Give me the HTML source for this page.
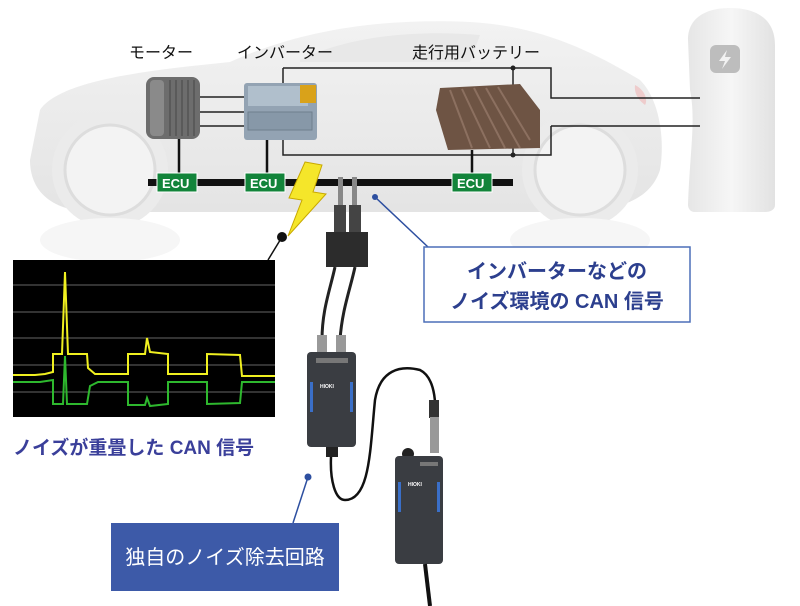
<!DOCTYPE html>
<html><head><meta charset="utf-8"><style>
html,body{margin:0;padding:0;background:#fff;}
svg{display:block;}
text{font-family:"Liberation Sans","Noto Sans CJK JP",sans-serif;}
</style></head><body>
<svg width="800" height="606" viewBox="0 0 800 606" xmlns="http://www.w3.org/2000/svg">
<defs>
<linearGradient id="car" x1="0" y1="0" x2="0" y2="1"><stop offset="0" stop-color="#f2f2f2"/><stop offset="1" stop-color="#e4e4e4"/></linearGradient>
<linearGradient id="chg" x1="0" y1="0" x2="1" y2="0"><stop offset="0" stop-color="#e6e6e6"/><stop offset="0.5" stop-color="#f6f6f6"/><stop offset="1" stop-color="#e2e2e2"/></linearGradient>
</defs>
<!-- car silhouette -->
<path d="M40,110 C60,80 150,70 230,62 C300,30 380,18 470,22 C540,26 590,50 640,80 C660,100 665,140 660,170 C650,200 620,212 560,212 L90,212 C50,210 30,190 30,160 Z" fill="url(#car)"/>
<path d="M300,60 C350,35 420,30 480,35 L470,62 L300,62 Z" fill="#e8e8e8"/>
<circle cx="110" cy="170" r="58" fill="#ebebeb"/><circle cx="110" cy="170" r="45" fill="#f3f3f3" stroke="#ddd" stroke-width="3"/>
<circle cx="580" cy="170" r="58" fill="#ebebeb"/><circle cx="580" cy="170" r="45" fill="#f3f3f3" stroke="#ddd" stroke-width="3"/>
<ellipse cx="110" cy="240" rx="70" ry="22" fill="#f6f6f6"/><ellipse cx="580" cy="240" rx="70" ry="22" fill="#f6f6f6"/>
<path d="M635,85 C645,90 648,100 645,105 C638,100 634,93 635,85Z" fill="#eecccc"/>
<!-- charger -->
<path d="M688,40 C688,15 710,8 730,8 C755,8 775,18 775,45 L775,205 C775,210 770,212 765,212 L695,212 C690,212 688,208 688,205 C690,150 696,120 690,90 Z" fill="url(#chg)"/>
<rect x="710" y="45" width="30" height="28" rx="6" fill="#bdbdbd"/>
<path d="M727,50 L719,61 L725,61 L722,69 L731,57 L725,57 Z" fill="#f2f2f2"/>
<!-- labels -->
<text x="129" y="58" font-size="16" fill="#111">モーター</text>
<text x="237" y="58" font-size="16" fill="#111">インバーター</text>
<text x="412" y="58" font-size="16" fill="#111">走行用バッテリー</text>
<!-- wires -->
<g stroke="#222" stroke-width="1.5" fill="none">
<path d="M283,68 L551,68 L551,98 L700,98"/>
<path d="M551,126 L700,126 M551,126 L551,155 L283,155 L283,68"/>
<path d="M513,68 L513,155"/>
<path d="M200,97 L245,97 M200,112 L245,112 M200,126 L245,126"/>
</g>
<circle cx="513" cy="68" r="2.5" fill="#222"/><circle cx="513" cy="155" r="2.5" fill="#222"/>
<g stroke="#111" stroke-width="2.5" fill="none">
<path d="M179,138 L179,176 M267,138 L267,176 M472,150 L472,176"/>
</g>
<!-- motor -->
<rect x="146" y="77" width="54" height="62" rx="8" fill="#6d6d6d"/>
<rect x="150" y="80" width="14" height="56" rx="4" fill="#8a8a8a"/>
<g stroke="#555" stroke-width="1.5"><path d="M170,80 V136 M176,80 V136 M182,80 V136 M188,80 V136 M194,80 V136"/></g>
<!-- inverter -->
<rect x="244" y="83" width="73" height="57" rx="3" fill="#93a3b3"/>
<rect x="248" y="86" width="60" height="20" fill="#b0bfcc"/>
<rect x="300" y="85" width="16" height="18" fill="#d9a21a"/>
<rect x="248" y="112" width="64" height="18" fill="#8798a8" stroke="#6f7f8e"/>
<!-- battery -->
<path d="M440,88 L520,84 L540,110 L540,148 L448,150 L436,110 Z" fill="#6e5444"/>
<g stroke="#8c7060" stroke-width="2"><path d="M450,90 L472,148 M462,89 L490,148 M474,88 L505,148 M486,88 L520,148 M498,87 L530,140"/></g>
<!-- CAN bus -->
<rect x="148" y="179" width="365" height="7" fill="#111"/>
<g fill="#12843a" stroke="#fff" stroke-width="1"><rect x="157" y="173" width="40" height="19"/><rect x="245" y="173" width="40" height="19"/><rect x="452" y="173" width="40" height="19"/></g>
<g font-size="13" font-weight="bold" fill="#fff"><text x="162" y="188">ECU</text><text x="250" y="188">ECU</text><text x="457" y="188">ECU</text></g>
<!-- lightning -->
<path d="M305,162 L322,165 L313,192 L326,194 L288,236 L302,200 L289,198 Z" fill="#f5e62a" stroke="#c8a800" stroke-width="1"/>
<!-- probes -->
<rect x="338" y="177" width="5" height="30" fill="#888"/><rect x="352" y="177" width="5" height="30" fill="#888"/>
<rect x="334" y="205" width="12" height="40" fill="#444"/><rect x="349" y="205" width="12" height="40" fill="#444"/>
<rect x="326" y="232" width="42" height="35" fill="#2c2c2c"/>
<g stroke="#222" stroke-width="3" fill="none">
<path d="M335,267 C330,290 322,310 322,340"/><path d="M355,267 C350,290 342,310 340,340"/>
</g>
<rect x="317" y="335" width="10" height="18" fill="#999"/><rect x="336" y="335" width="10" height="18" fill="#999"/>
<!-- device 1 -->
<rect x="307" y="352" width="49" height="95" rx="4" fill="#3a3d42"/>
<rect x="316" y="358" width="32" height="5" fill="#777"/>
<rect x="310" y="382" width="3" height="30" fill="#3a6fc8"/><rect x="350" y="382" width="3" height="30" fill="#3a6fc8"/>
<text x="320" y="388" font-size="5" fill="#fff" font-weight="bold">HIOKI</text>
<rect x="326" y="447" width="12" height="10" fill="#222"/>
<!-- cable -->
<path d="M331,457 C330,480 335,500 345,500 C370,500 370,450 375,400 C380,370 400,365 420,370 C440,380 435,420 435,440" stroke="#111" stroke-width="2.5" fill="none"/>
<rect x="429" y="400" width="10" height="18" fill="#333"/><rect x="430" y="417" width="9" height="36" fill="#999"/>
<!-- device 2 -->
<circle cx="408" cy="454" r="6" fill="#222"/>
<rect x="395" y="456" width="48" height="108" rx="4" fill="#3a3d42"/>
<rect x="420" y="462" width="18" height="4" fill="#777"/>
<rect x="398" y="482" width="3" height="30" fill="#3a6fc8"/><rect x="437" y="482" width="3" height="30" fill="#3a6fc8"/>
<text x="408" y="486" font-size="5" fill="#fff" font-weight="bold">HIOKI</text>
<path d="M425,564 L430,606" stroke="#111" stroke-width="4"/>
<!-- callout right -->
<circle cx="375" cy="197" r="3" fill="#2d4fa0"/>
<path d="M375,197 L428,247" stroke="#2d4fa0" stroke-width="1.5"/>
<rect x="424" y="247" width="266" height="75" fill="#fff" stroke="#4c6fb8" stroke-width="1.5"/>
<text x="557" y="278" font-size="20" font-weight="bold" fill="#2c3f8e" text-anchor="middle">インバーターなどの</text>
<text x="557" y="308" font-size="20" font-weight="bold" fill="#2c3f8e" text-anchor="middle">ノイズ環境の CAN 信号</text>
<!-- waveform -->
<circle cx="282" cy="237" r="5" fill="#111"/>
<path d="M282,237 L268,260" stroke="#111" stroke-width="1.5"/>
<rect x="13" y="260" width="262" height="157" fill="#000"/>
<g stroke="#888" stroke-width="0.8"><path d="M13,285 H275 M13,312 H275 M13,338 H275 M13,365 H275 M13,392 H275"/></g>
<path d="M13,375 L35,375 L45,374 L53,372 L53,354 L62,354 L65,272 L68,354 L87,354 L88,368 L95,374 L128,374 L128,354 L145,354 L147,338 L150,352 L168,354 L168,374 L207,374 L207,354 L240,355 L242,376 L275,376" stroke="#f0f020" stroke-width="2" fill="none"/>
<path d="M13,382 L40,382 L53,380 L53,404 L63,404 L65,356 L67,404 L87,404 L90,386 L98,382 L128,382 L128,405 L145,405 L147,398 L150,406 L168,404 L168,382 L207,382 L207,404 L240,403 L242,382 L275,382" stroke="#2eb82e" stroke-width="2" fill="none"/>
<text x="13" y="454" font-size="19" font-weight="bold" fill="#3a3f9a">ノイズが重畳した CAN 信号</text>
<!-- bottom callout -->
<circle cx="308" cy="477" r="3.5" fill="#2d4fa0"/>
<path d="M308,477 L293,523" stroke="#2d4fa0" stroke-width="1.5"/>
<rect x="111" y="523" width="228" height="68" fill="#3d5aa8"/>
<text x="225" y="564" font-size="20" fill="#fff" text-anchor="middle">独自のノイズ除去回路</text>
</svg>
</body></html>
